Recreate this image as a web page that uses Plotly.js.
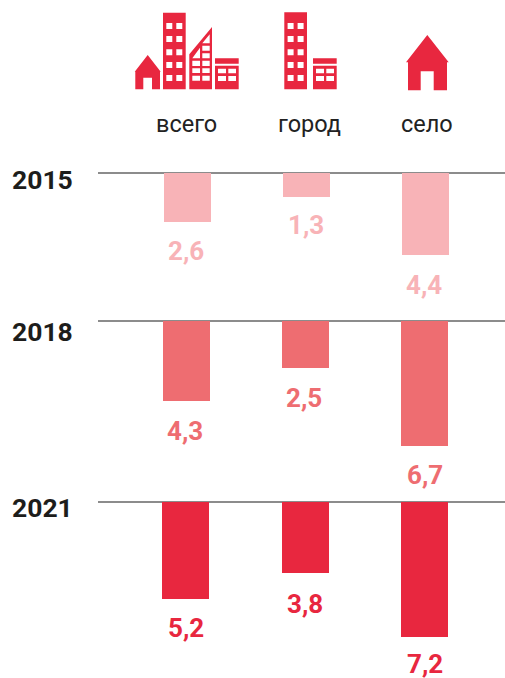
<!DOCTYPE html>
<html><head><meta charset="utf-8">
<script src="https://cdn.plot.ly/plotly-3.0.1.min.js"></script>
<style>html,body{margin:0;padding:0;background:#fff;overflow:hidden}</style>
</head><body><div id="chart" style="width:505px;height:678px"></div>
<script>
const categories = ["всего", "город", "село"];
const years = ["2015", "2018", "2021"];
const values2015 = [2.6, 1.3, 4.4];
const values2018 = [4.3, 2.5, 6.7];
const values2021 = [5.2, 3.8, 7.2];
const seriesValues = [values2015, values2018, values2021];
const seriesColors = ["#F8B3B7", "#EE6D71", "#E8273F"];

const W = 505, H = 678, PX_PER_UNIT = 18.7, RED = "#E8273F";
const rowTop = [173, 321, 502], rowBottom = [305, 485, 678];
const rowCenter = [187.5, 186.5, 185.5];
const rowStep = [119.2, 119.2, 119.6];
const BAR_PX = 47, LEFT = 98;
const yearY = [180, 331, 507];
const labelDx = [[-1.5, -0.5, -1.5], [-1.5, -1.5, 0], [0, 0, 0]];
const labelDy = [[29, 28, 29.5], [30, 30, 28.5], [29, 31, 27]];

const px = x => x / W, py = y => 1 - y / H;
const fmt = v => v.toFixed(1).replace(".", ",");

const traces = [], annotations = [], layout = {
  width: W, height: H, margin: {l: 0, r: 0, t: 0, b: 0, pad: 0},
  paper_bgcolor: "#fff", plot_bgcolor: "rgba(0,0,0,0)",
  showlegend: false, bargap: 0,
  font: {family: "Roboto, sans-serif"}
};

seriesValues.forEach((vals, r) => {
  const sfx = r === 0 ? "" : String(r + 1);
  const STEP = rowStep[r];
  traces.push({
    type: "bar", x: categories, y: vals,
    xaxis: "x" + sfx, yaxis: "y" + sfx,
    width: BAR_PX / STEP,
    marker: {color: seriesColors[r], line: {width: 0}},
    hoverinfo: "x+y"
  });
  layout["xaxis" + sfx] = {
    domain: [px(LEFT), 1], anchor: "y" + sfx, type: "category",
    categoryorder: "array", categoryarray: categories,
    range: [(LEFT - rowCenter[r]) / STEP, (W - rowCenter[r]) / STEP],
    showgrid: false, zeroline: false, showticklabels: false, ticks: "",
    showline: false, fixedrange: true
  };
  layout["yaxis" + sfx] = {
    domain: [py(rowBottom[r]), py(rowTop[r])], anchor: "x" + sfx,
    range: [(rowBottom[r] - rowTop[r]) / PX_PER_UNIT, 0],
    showgrid: false, showticklabels: false, ticks: "",
    zeroline: true, zerolinecolor: "#8c8c8c", zerolinewidth: 1.2,
    showline: false, fixedrange: true
  };
  vals.forEach((v, i) => annotations.push({
    xref: "x" + sfx, yref: "y" + sfx, x: categories[i], y: v,
    xshift: labelDx[r][i], yshift: -labelDy[r][i], text: fmt(v), showarrow: false,
    xanchor: "center", yanchor: "middle",
    font: {family: "Roboto, sans-serif", size: 26, weight: 700, color: seriesColors[r]}
  }));
  annotations.push({
    xref: "paper", yref: "paper", x: px(9.5), y: py(yearY[r]),
    text: years[r], showarrow: false, xanchor: "left", yanchor: "middle",
    font: {family: "Roboto, sans-serif", size: 26.5, weight: 700, color: "#1d1d1b"}
  });
});

const headerX = [186.5, 309, 427];
categories.forEach((c, i) => annotations.push({
  xref: "paper", yref: "paper", x: px(headerX[i]), y: py(124),
  text: c, showarrow: false, xanchor: "center", yanchor: "middle",
  font: {family: "Roboto, sans-serif", size: 23.5, color: "#222"}
}));
layout.annotations = annotations;

/* pictogram helpers: page pixels to paper coordinates */
const poly = pts => "M" + pts.map(p => px(p[0]) + "," + py(p[1])).join("L") + "Z";
const rect = (x0, y0, x1, y1) => poly([[x0,y0],[x1,y0],[x1,y1],[x0,y1]]);
const house = (peak, eave, bodyL, bodyR, bottom, doorL, doorR, doorT, eaveL, eaveR, cx) => poly([
  [cx, peak],[eaveR, eave],[bodyR, eave],[bodyR, bottom],[doorR, bottom],[doorR, doorT],
  [doorL, doorT],[doorL, bottom],[bodyL, bottom],[bodyL, eave],[eaveL, eave]]);
function tower(x0, y0) {
  let d = rect(x0, y0, x0 + 22.7, 89.3);
  [23, 36, 49.3, 62, 75].forEach(y => [3.3, 13.3].forEach(dx => {
    d += rect(x0 + dx, y, x0 + dx + 6, y + 6);
  }));
  return d;
}
function shop(x0) {
  let d = rect(x0, 58.3, x0 + 23.7, 63.7) + rect(x0, 65.7, x0 + 23.7, 89.3);
  [[68.7, 73.3], [76, 81]].forEach(r => [[3, 11], [13.3, 21]].forEach(c => {
    d += rect(x0 + c[0], r[0], x0 + c[1], r[1]);
  }));
  return d;
}
function slant() {
  let d = poly([[189.3, 54.3], [212, 27], [212, 89.3], [189.3, 89.3]]);
  [[60.7, 66], [68.3, 73], [75.7, 80.7]].forEach(r => [[192.3, 200], [202.3, 209.7]].forEach(c => {
    d += rect(c[0], r[0], c[1], r[1]);
  }));
  d += rect(202.3, 53.3, 209.7, 58.3) + rect(202.3, 45.7, 209.7, 50.7);
  d += poly([[192.3, 58.3], [200, 47.7], [200, 58.3]]);
  d += poly([[202.3, 43.3], [209.7, 34.3], [209.7, 43.3]]);
  return d;
}
const icons = [
  house(55, 71.7, 135.3, 160, 89.3, 143.3, 152, 77.7, 134.7, 160.7, 147.7),
  tower(163, 12.7), slant(), shop(215),
  tower(284.3, 12.2), shop(313),
  house(35, 62.3, 408, 447, 90.3, 420.7, 433.7, 71.3, 406, 448.7, 427.3)
];
layout.shapes = icons.map(d => ({
  type: "path", xref: "paper", yref: "paper", path: d, fillrule: "evenodd",
  fillcolor: RED, line: {width: 0}, layer: "above"
}));

Plotly.newPlot("chart", traces, layout, {displayModeBar: false, staticPlot: true});
</script></body></html>
